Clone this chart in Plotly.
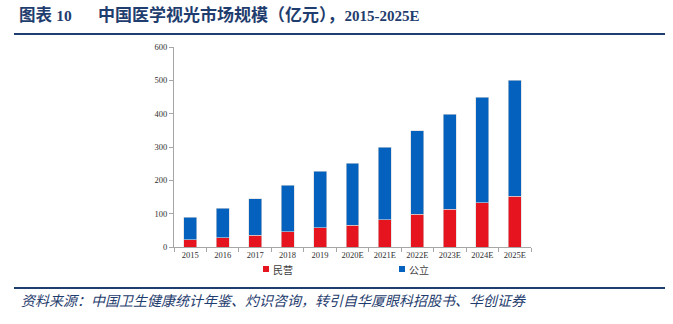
import plotly.graph_objects as go

# 中国医学视光市场规模（亿元）
years = ["2015", "2016", "2017", "2018", "2019", "2020E",
         "2021E", "2022E", "2023E", "2024E", "2025E"]
private = [22, 28, 35, 46, 58, 66, 82, 98, 114, 133, 152]     # 民营
total = [89, 116, 145, 185, 228, 252, 300, 349, 399, 450, 500]
public = [t - p for t, p in zip(total, private)]              # 公立
y_ticks = [0, 100, 200, 300, 400, 500, 600]

RED = "#e6141e"
BLUE = "#0461bd"
NAVY = "#1f3d6e"
AXIS = "#a6a6a6"
SERIF = "Liberation Serif, Noto Sans CJK SC, serif"
SANS_CJK = "Noto Sans CJK SC, sans-serif"

W, H = 673, 324
L, R, T, B = 174, 142, 47, 77
pw, ph = W - L - R, H - T - B


def px(x):
    return (x - L) / pw


def py(y):
    return 1 - (y - T) / ph


fig = go.Figure()
fig.add_trace(go.Bar(x=years, y=private, name="民营", marker_color=RED,
                     marker_line=dict(color="#d9d9d9", width=0.6),
                     width=0.4, showlegend=False))
fig.add_trace(go.Bar(x=years, y=public, name="公立", marker_color=BLUE,
                     marker_line=dict(color="#d9d9d9", width=0.6),
                     width=0.4, showlegend=False))

fig.update_layout(
    width=W, height=H,
    margin=dict(l=L, r=R, t=T, b=B, pad=0),
    paper_bgcolor="white", plot_bgcolor="white",
    barmode="stack",
    font=dict(family=SERIF, size=9, color="#404040"),
    showlegend=False,
    xaxis=dict(type="category", showline=True, linecolor=AXIS, linewidth=1,
               ticks="outside", tickson="boundaries", ticklen=4,
               tickcolor=AXIS, showgrid=False,
               tickfont=dict(family=SERIF, size=8.5, color="#303030")),
    yaxis=dict(range=[0, 600], tickvals=y_ticks, showline=True, linecolor=AXIS,
               linewidth=1, ticks="outside", ticklen=4, tickcolor=AXIS,
               showgrid=False, zeroline=False,
               tickfont=dict(family=SERIF, size=8.5, color="#303030")),
)

# legend: small square swatches with labels below the axis
for name, col, x0 in [("民营", RED, 263), ("公立", BLUE, 399)]:
    fig.add_shape(type="rect", xref="paper", yref="paper",
                  x0=px(x0), x1=px(x0 + 6), y0=py(266), y1=py(272),
                  fillcolor=col, line=dict(width=0))
    fig.add_annotation(text=name, xref="paper", yref="paper",
                       x=px(x0 + 7.5), y=py(269), xanchor="left",
                       yanchor="middle", showarrow=False,
                       font=dict(family=SANS_CJK, size=10, color="#404040"))

# header and footer rules
fig.add_shape(type="line", xref="paper", yref="paper",
              x0=px(14), x1=px(665), y0=py(34), y1=py(34),
              line=dict(color=NAVY, width=2))
fig.add_shape(type="line", xref="paper", yref="paper",
              x0=px(14), x1=px(665), y0=py(288), y1=py(288),
              line=dict(color=NAVY, width=2))

fig.add_annotation(text="<b><span style='font-size:16.5px'>图表 </span>10</b>",
                   xref="paper", yref="paper", x=px(17), y=py(15),
                   xanchor="left", yanchor="middle", showarrow=False,
                   font=dict(family=SERIF, size=15.5, color=NAVY))
fig.add_annotation(
    text="<b><span style='font-size:17px'>中国医学视光市场规模（亿元），</span>"
         "2015-2025E</b>",
    xref="paper", yref="paper", x=px(96), y=py(15),
    xanchor="left", yanchor="middle", showarrow=False,
    font=dict(family=SERIF, size=15, color=NAVY))
fig.add_annotation(text="<i>资料来源：中国卫生健康统计年鉴、灼识咨询，转引自华厦眼科招股书、华创证券</i>",
                   xref="paper", yref="paper", x=px(19), y=py(300),
                   xanchor="left", yanchor="middle", showarrow=False,
                   font=dict(family=SANS_CJK, size=14, color=NAVY))

fig.write_html("out.html")
